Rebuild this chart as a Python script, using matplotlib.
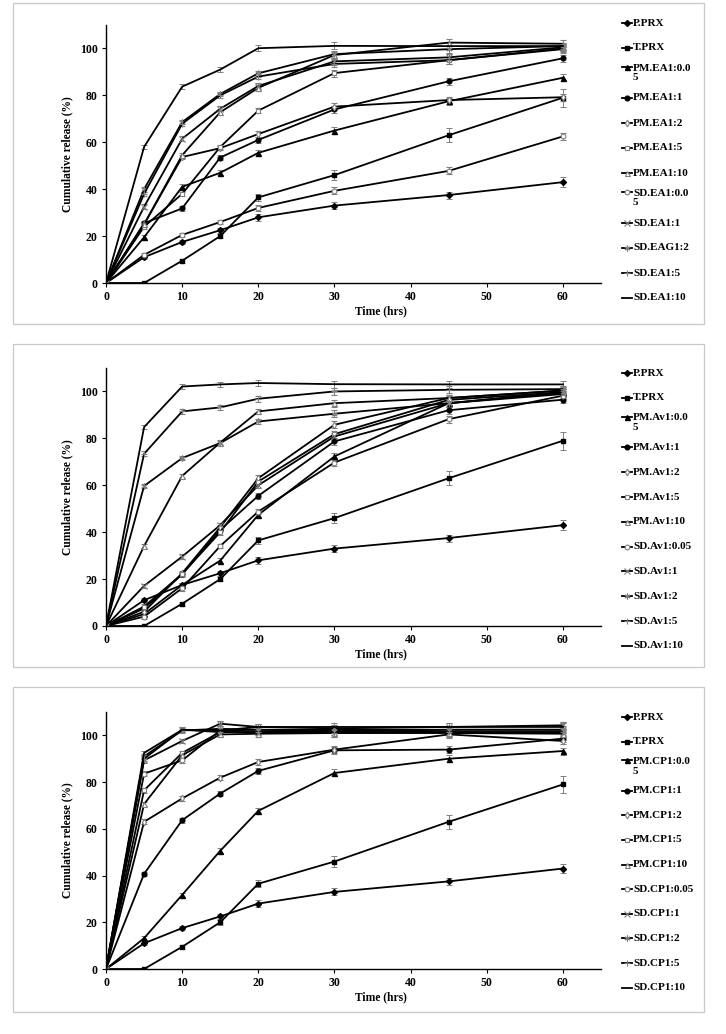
import matplotlib
matplotlib.use("Agg")
import matplotlib.pyplot as plt
from matplotlib.lines import Line2D
from matplotlib.patches import Rectangle

plt.rcParams['font.family'] = ['Liberation Serif', 'DejaVu Serif']

# ---------------- data ----------------
TIME = [0, 5, 10, 15, 20, 30, 45, 60]
X_TICKS = [0, 10, 20, 30, 40, 50, 60]
Y_TICKS = [0, 20, 40, 60, 80, 100]

P_PRX = [0, 11, 17.5, 22.5, 28, 33, 37.5, 43]
T_PRX = [0, 0, 9.5, 20, 36.5, 46, 63, 79]
ERR_P = [0, 0.8, 0.8, 1.0, 1.5, 1.5, 1.5, 2.0]
ERR_T = [0, 0.5, 0.8, 1.0, 1.5, 2.2, 3.0, 3.8]
ERR_OTHER = [0, 1.0, 1.0, 1.0, 1.2, 1.5, 1.5, 1.5]

# Panel 1 : EA
EA_LABELS = ["P.PRX", "T.PRX", "PM.EA1:0.0\n5", "PM.EA1:1", "PM.EA1:2", "PM.EA1:5",
             "PM.EA1:10", "SD.EA1:0.0\n5", "SD.EA1:1", "SD.EAG1:2", "SD.EA1:5", "SD.EA1:10"]
PM_EA_005 = [0, 19.5, 41, 47, 55.5, 65, 77.5, 87.5]
PM_EA_1 = [0, 25.5, 31.8, 53.5, 61, 74, 86, 95.8]
PM_EA_2 = [0, 25, 53.7, 57.5, 63.5, 75.2, 78, 79.2]
PM_EA_5 = [0, 24, 38, 58, 73.5, 89.5, 95, 100]
PM_EA_10 = [0, 25, 54.5, 72.8, 83.2, 97.2, 102.5, 102]
SD_EA_005 = [0, 12, 20.5, 26, 32, 39.3, 47.8, 62.5]
SD_EA_1 = [0, 32.5, 61.5, 74.3, 84, 94.5, 96.2, 100.5]
SD_EAG_2 = [0, 40, 68.6, 80.6, 89.4, 97.6, 99.7, 101]
SD_EA_5 = [0, 38, 67.9, 80, 88, 93.4, 95, 99.7]
SD_EA_10 = [0, 58, 83.7, 91, 100.1, 101.1, 101, 101]

# Panel 2 : Av
AV_LABELS = ["P.PRX", "T.PRX", "PM.Av1:0.0\n5", "PM.Av1:1", "PM.Av1:2", "PM.Av1:5",
             "PM.Av1:10", "SD.Av1:0.05", "SD.Av1:1", "SD.Av1:2", "SD.Av1:5", "SD.Av1:10"]
PM_AV_005 = [0, 5.1, 17.5, 27.9, 47.4, 72.3, 95, 99.5]
PM_AV_1 = [0, 7.5, 22, 41, 55.5, 78.7, 92, 96.5]
PM_AV_2 = [0, 6.1, 22.5, 42.1, 63, 85.8, 97.2, 100.4]
PM_AV_5 = [0, 8.3, 22.2, 40, 61.6, 81.8, 96.4, 99.7]
PM_AV_10 = [0, 34.1, 64, 78.2, 91.5, 95, 97.2, 100.4]
SD_AV_005 = [0, 4, 16.1, 34.1, 48.8, 69.7, 88.2, 98.2]
SD_AV_1 = [0, 17.1, 29.6, 43, 60, 80.8, 95, 98.9]
SD_AV_2 = [0, 59.7, 71.6, 78, 87.2, 90.5, 95, 99.7]
SD_AV_5 = [0, 73.4, 91.5, 93.2, 96.9, 100, 100.7, 101]
SD_AV_10 = [0, 84.8, 102.1, 103, 103.6, 103.1, 103, 103]

# Panel 3 : CP
CP_LABELS = ["P.PRX", "T.PRX", "PM.CP1:0.0\n5", "PM.CP1:1", "PM.CP1:2", "PM.CP1:5",
             "PM.CP1:10", "SD.CP1:0.05", "SD.CP1:1", "SD.CP1:2", "SD.CP1:5", "SD.CP1:10"]
PM_CP_005 = [0, 13.2, 31.7, 50.6, 67.7, 83.9, 90, 93.3]
PM_CP_1 = [0, 40.7, 63.7, 75.1, 84.8, 93.6, 93.9, 98.6]
PM_CP_2 = [0, 63, 73, 81.9, 88.6, 93.9, 100.4, 97.6]
PM_CP_5 = [0, 76.5, 92.5, 101.4, 101.4, 101.8, 101.4, 101.4]
PM_CP_10 = [0, 70.6, 91.5, 100.4, 100.7, 101, 101, 100.7]
SD_CP_005 = [0, 83.6, 89.3, 102.1, 102.4, 102.4, 102.4, 102.4]
SD_CP_1 = [0, 89.3, 97.6, 105, 103.6, 103, 103.6, 104.3]
SD_CP_2 = [0, 91, 102.1, 102.8, 102.4, 101.8, 102.4, 102.4]
SD_CP_5 = [0, 90, 102.4, 101.4, 101.4, 101, 101.4, 101.4]
SD_CP_10 = [0, 92.5, 102.4, 102.1, 103.6, 103.6, 103.6, 103.6]

# ---------------- styles ----------------
GRAY = '#7f7f7f'
STYLES = [
    dict(marker='D', ms=3.0, mfc='black', mec='black'),
    dict(marker='s', ms=3.4, mfc='black', mec='black'),
    dict(marker='^', ms=3.6, mfc='black', mec='black'),
    dict(marker='o', ms=3.4, mfc='black', mec='black'),
    dict(marker='d', ms=3.4, mfc='white', mec=GRAY, mew=0.8),
    dict(marker='s', ms=3.4, mfc='white', mec=GRAY, mew=0.8),
    dict(marker='^', ms=3.6, mfc='white', mec=GRAY, mew=0.8),
    dict(marker='o', ms=3.4, mfc='white', mec=GRAY, mew=0.8),
    dict(marker='x', ms=3.8, mfc='none', mec=GRAY, mew=0.8),
    dict(marker=(6, 2, 0), ms=4.2, mfc='none', mec=GRAY, mew=0.8),
    dict(marker='+', ms=4.2, mfc='none', mec=GRAY, mew=0.8),
    dict(marker='None', ms=0),
]

W, H = 726, 1034
fig = plt.figure(figsize=(W / 100, H / 100), dpi=100)
fig.patch.set_facecolor('white')


def fx(px):
    return px / W


def fy(py):
    return 1 - py / H


def draw_panel(series, labels, box, ax_px, leg_y0, leg_dy):
    bx0, by0, bx1, by1 = box
    fig.add_artist(Rectangle((fx(bx0), fy(by1)), fx(bx1) - fx(bx0), fy(by0) - fy(by1),
                             transform=fig.transFigure, fill=False, ec='#c8c8c8', lw=0.9))
    l, t, r, b = ax_px
    ax = fig.add_axes([fx(l), fy(b), fx(r) - fx(l), fy(t) - fy(b)])
    errs = [ERR_P, ERR_T] + [ERR_OTHER] * (len(series) - 2)
    for vals, err, st in zip(series, errs, STYLES):
        ax.errorbar(TIME, vals, yerr=err, color='black', lw=1.3,
                    ecolor=GRAY, elinewidth=0.7, capsize=2, capthick=0.7, **st)
    ax.set_xlim(0, 65)
    ax.set_ylim(0, 110)
    ax.set_xticks(X_TICKS)
    ax.set_yticks(Y_TICKS)
    for s in ['top', 'right']:
        ax.spines[s].set_visible(False)
    for s in ['left', 'bottom']:
        ax.spines[s].set_linewidth(1.0)
    ax.tick_params(axis='both', direction='out', length=3, width=0.8, labelsize=8.5, pad=3)
    for lab in ax.get_xticklabels() + ax.get_yticklabels():
        lab.set_fontweight('bold')
    ax.set_xlabel('Time (hrs)', fontsize=8.3, fontweight='bold')
    ax.xaxis.set_label_coords(0.556, -0.085)
    ax.set_ylabel('Cumulative release (%)', fontsize=8.3, fontweight='bold')
    ax.yaxis.set_label_coords(-0.066, 0.5)
    # legend
    for i, (lab, st) in enumerate(zip(labels, STYLES)):
        y = leg_y0 + i * leg_dy
        multi = '\n' in lab
        hy = y - 6 if multi else y
        fig.add_artist(Line2D([fx(622), fx(627), fx(632)], [fy(hy)] * 3, color='black', lw=1.3,
                              markevery=[1], transform=fig.transFigure, **st))
        fig.text(fx(633), fy(y), lab, fontsize=8, fontweight='bold', va='center', ha='left',
                 linespacing=1.1)
    return ax


draw_panel([P_PRX, T_PRX, PM_EA_005, PM_EA_1, PM_EA_2, PM_EA_5, PM_EA_10,
            SD_EA_005, SD_EA_1, SD_EAG_2, SD_EA_5, SD_EA_10],
           EA_LABELS, (13, 3, 704, 324), (106, 25, 601, 283), 23, 25.0)

draw_panel([P_PRX, T_PRX, PM_AV_005, PM_AV_1, PM_AV_2, PM_AV_5, PM_AV_10,
            SD_AV_005, SD_AV_1, SD_AV_2, SD_AV_5, SD_AV_10],
           AV_LABELS, (13, 344, 704, 667), (106, 368, 601, 626), 373, 24.8)

draw_panel([P_PRX, T_PRX, PM_CP_005, PM_CP_1, PM_CP_2, PM_CP_5, PM_CP_10,
            SD_CP_005, SD_CP_1, SD_CP_2, SD_CP_5, SD_CP_10],
           CP_LABELS, (13, 687, 704, 1012), (106, 712, 601, 969), 717, 24.6)

fig.savefig('out.png', dpi=100, facecolor='white')
